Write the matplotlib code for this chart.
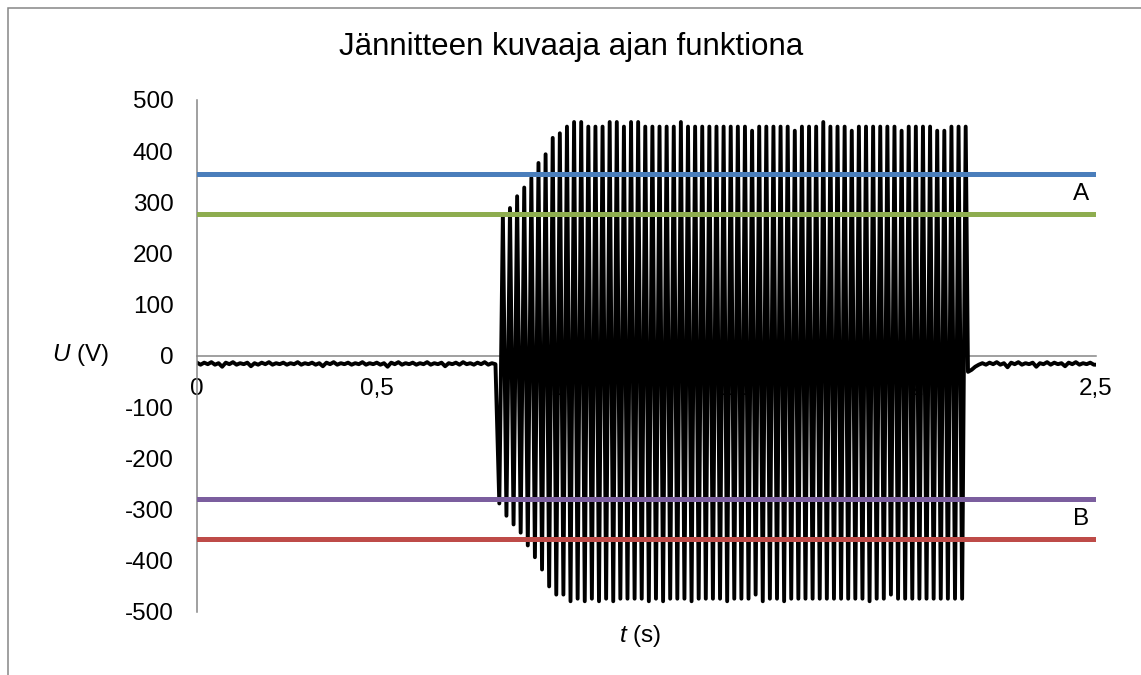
import numpy as np
import matplotlib
matplotlib.use("Agg")
import matplotlib.pyplot as plt
from matplotlib.patches import Rectangle

plt.rcParams["font.family"] = ["Liberation Sans", "DejaVu Sans"]
plt.rcParams["axes.unicode_minus"] = False
plt.rcParams["mathtext.fontset"] = "custom"
plt.rcParams["mathtext.rm"] = "Liberation Sans"
plt.rcParams["mathtext.it"] = "Liberation Sans:italic"

title = "Jännitteen kuvaaja ajan funktiona"
x_ticks = [0, 0.5, 1, 1.5, 2, 2.5]
x_tick_labels = ["0", "0,5", "1", "1,5", "2", "2,5"]
y_ticks = [-500, -400, -300, -200, -100, 0, 100, 200, 300, 400, 500]

# limit lines (V)
limit_A_hi = 356
limit_A_lo = 278
limit_B_hi = -280
limit_B_lo = -358

# 50 Hz burst, peaks read per cycle
t_start = 0.8407
period = 0.0198
tops = [276, 289, 312, 329, 348, 377, 394, 426, 435, 448, 457, 457, 448, 448, 448, 457, 457,
        448, 457, 457, 448, 448, 448, 448, 448, 457, 448, 448, 448, 448, 448, 448, 448, 448,
        448, 440, 448, 448, 448, 448, 448, 440, 448, 448, 448, 457, 448, 448, 448, 440, 448,
        448, 448, 448, 448, 448, 440, 448, 448, 448, 448, 440, 440, 448, 448, 448]
bottoms = [-288, -312, -329, -345, -370, -393, -417, -450, -466, -466, -479, -474, -479, -474,
           -479, -474, -479, -474, -474, -474, -474, -479, -474, -479, -474, -474, -474, -479,
           -474, -474, -474, -474, -479, -474, -474, -474, -466, -479, -474, -474, -479, -474,
           -474, -474, -474, -474, -474, -474, -474, -474, -474, -474, -479, -474, -474, -466,
           -474, -474, -474, -474, -474, -474, -474, -474, -474, -474]

# noise before and after the burst (every 0.01 s)
pre_u = [-13, -17, -13, -16, -12, -17, -14, -21, -13, -16, -12, -17, -14, -16, -13, -20,
         -14, -17, -13, -16, -12, -17, -14, -16, -13, -17, -14, -16, -12, -17, -14, -16,
         -13, -17, -14, -20, -13, -16, -12, -17, -14, -16, -13, -17, -14, -16, -12, -17,
         -14, -16, -13, -17, -14, -21, -13, -16, -12, -17, -14, -16, -13, -17, -14, -16,
         -12, -17, -14, -16, -13, -20, -14, -16, -13, -17, -12, -16, -14, -17, -13, -16,
         -12, -17, -14, -16]
post_start = 2.144
post_u = [-31, -27, -21, -17, -14, -17, -13, -16, -12, -17, -14, -22, -13, -16, -12, -17,
          -14, -16, -13, -21, -14, -16, -12, -17, -13, -16, -14, -20, -13, -16, -12, -17,
          -14, -16, -13, -17]

t_pre = np.arange(len(pre_u)) * 0.01
t_osc = []
u_osc = []
for i in range(len(bottoms)):
    t_osc += [t_start + i * period, t_start + i * period + period / 2]
    u_osc += [bottoms[i], tops[i]]
t_post = post_start + np.arange(len(post_u)) * 0.01
t_all = np.concatenate([t_pre, t_osc, t_post, [2.5]])
u_all = np.concatenate([pre_u, u_osc, post_u, [post_u[-1]]])

fig = plt.figure(figsize=(11.41, 6.75), dpi=100)
ax = fig.add_axes([197/1141, 1-612/675, (1096-197)/1141, (612-100)/675])

ax.plot(t_all, u_all, color="black", lw=2.8, solid_joinstyle="round", zorder=2)
for y, col in [(limit_A_hi, "#4A7EBB"), (limit_A_lo, "#8EAD4F"),
               (limit_B_hi, "#7B5E9E"), (limit_B_lo, "#BE4B48")]:
    ax.axhline(y, color=col, lw=3.6, zorder=3)

ax.set_xlim(0, 2.5)
ax.set_ylim(-500, 500)
ax.set_xticks(x_ticks)
ax.set_xticklabels(x_tick_labels)
ax.set_yticks(y_ticks)
ax.tick_params(length=0, labelsize=17.5, colors="black")
ax.tick_params(axis="x", pad=16)
ax.tick_params(axis="y", pad=17)
for s in ["top", "right"]:
    ax.spines[s].set_visible(False)
ax.spines["bottom"].set_position(("data", 0))
ax.spines["bottom"].set_zorder(1)
for s in ["left", "bottom"]:
    ax.spines[s].set_color("#868686")
    ax.spines[s].set_linewidth(1.1)

ax.text(2.48, (limit_A_hi + limit_A_lo) / 2, "A", ha="right", va="center", fontsize=17.5, zorder=4)
ax.text(2.48, (limit_B_hi + limit_B_lo) / 2, "B", ha="right", va="center", fontsize=17.5, zorder=4)

fig.text(571/1141, 1-47/675, title, ha="center", va="center", fontsize=22.5)
fig.text(80/1141, 1-355/675, r"$U$ (V)", ha="center", va="center", fontsize=17.5)
fig.text(640/1141, 1-636/675, r"$t$ (s)", ha="center", va="center", fontsize=17.5)

fig.patches.append(Rectangle((8/1141, -0.1), 1.2, 1 - 8/675 + 0.1, transform=fig.transFigure,
                             fill=False, edgecolor="#868686", lw=1.1))

fig.savefig("out.png", dpi=100)
